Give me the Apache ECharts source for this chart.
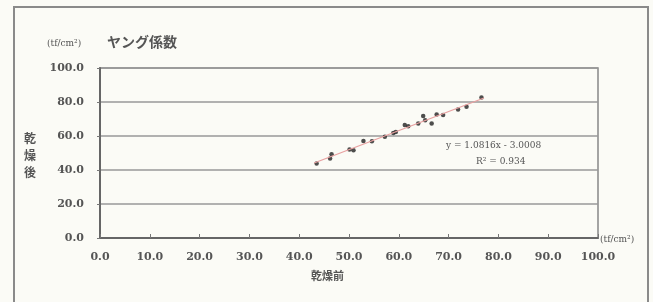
<!DOCTYPE html>
<html lang="ja">
<head>
<meta charset="UTF-8">
<title>ヤング係数</title>
<script src="https://cdn.jsdelivr.net/npm/echarts@6/dist/echarts.min.js"></script>
<style>
 html, body { margin: 0; padding: 0; background: #fbfbf6; }
</style>
</head>
<body>
<div id="main" style="width:653px;height:302px;"></div>
<script type="text/javascript">
// 乾燥前 (x) / 乾燥後 (y)
var before = [43.5, 46.2, 46.5, 50.1, 50.9, 52.9, 54.6, 57.2, 58.9, 59.4, 61.2, 61.9, 63.9, 64.9, 65.3, 66.6, 67.6, 68.9, 71.9, 73.6, 76.6];
var after  = [43.8, 46.7, 49.3, 52.0, 51.6, 57.1, 56.9, 59.5, 61.8, 62.4, 66.4, 65.8, 67.4, 71.7, 69.3, 67.4, 72.7, 72.3, 75.6, 77.2, 82.7];
var xTicks = [0, 10, 20, 30, 40, 50, 60, 70, 80, 90, 100];
var yTicks = [0, 20, 40, 60, 80, 100];
var eqText = 'y = 1.0816x - 3.0008';
var r2Text = 'R² = 0.934';

var points = before.map(function (v, i) { return [v, after[i]]; });

// 近似直線
var n = before.length, sx = 0, sy = 0, sxx = 0, sxy = 0;
for (var i = 0; i < n; i++) {
    sx += before[i]; sy += after[i];
    sxx += before[i] * before[i]; sxy += before[i] * after[i];
}
var slope = (n * sxy - sx * sy) / (n * sxx - sx * sx);
var icpt = (sy - slope * sx) / n;
var x0 = Math.min.apply(null, before) - 0.5, x1 = Math.max.apply(null, before) + 0.5;
var trend = [[x0, slope * x0 + icpt], [x1, slope * x1 + icpt]];

var txt = '#555';
var ff = '"DejaVu Serif", "Noto Sans CJK JP", serif';

var myChart = echarts.init(document.getElementById('main'));
myChart.setOption({
    backgroundColor: '#fbfbf6',
    animation: false,
    textStyle: { fontFamily: ff },
    grid: { left: 100, right: 55, top: 68, bottom: 64, show: true, borderColor: '#888', borderWidth: 1.5 },
    graphic: [
        { type: 'rect', shape: { x: 14, y: 7, width: 634, height: 310 },
          style: { fill: 'none', stroke: '#8a8a8a', lineWidth: 2 } },
        { type: 'text', left: 107, top: 35,
          style: { text: 'ヤング係数', fill: txt, font: 'bold 14px "Noto Sans CJK JP"' } },
        { type: 'text', left: 47, top: 39,
          style: { text: '(tf/cm²)', fill: txt, font: '9px "DejaVu Serif"' } },
        { type: 'text', left: 600, top: 235,
          style: { text: '(tf/cm²)', fill: txt, font: '9px "DejaVu Serif"' } },
        { type: 'text', left: 24, top: 130,
          style: { text: '乾\n燥\n後', fill: txt, lineHeight: 17, font: 'bold 12px "Noto Sans CJK JP"' } },
        { type: 'text', left: 311, top: 270,
          style: { text: '乾燥前', fill: txt, font: 'bold 11px "Noto Sans CJK JP"' } },
        { type: 'text', left: 446, top: 141,
          style: { text: eqText, fill: txt, font: '9px "DejaVu Serif"' } },
        { type: 'text', left: 476, top: 157,
          style: { text: r2Text, fill: txt, font: '9px "DejaVu Serif"' } }
    ],
    xAxis: {
        type: 'value', min: 0, max: 100, interval: 10,
        axisLine: { lineStyle: { color: '#666', width: 2 } },
        axisTick: { show: true, inside: true, length: 4, lineStyle: { color: '#777' } },
        splitLine: { show: false },
        axisLabel: {
            color: txt, fontSize: 11, fontWeight: 'bold', margin: 14,
            formatter: function (v) { return xTicks.indexOf(v) >= 0 ? v.toFixed(1) : ''; }
        }
    },
    yAxis: {
        type: 'value', min: 0, max: 100, interval: 20,
        axisLine: { show: true, lineStyle: { color: '#666', width: 2 } },
        axisTick: { show: true, length: 3, lineStyle: { color: '#777' } },
        splitLine: { show: true, lineStyle: { color: '#999', width: 1.5 } },
        axisLabel: {
            color: txt, fontSize: 11, fontWeight: 'bold', margin: 16,
            formatter: function (v) { return yTicks.indexOf(v) >= 0 ? v.toFixed(1) : ''; }
        }
    },
    series: [
        {
            type: 'line', data: trend, symbol: 'none', silent: true,
            lineStyle: { color: '#e8a0a0', width: 1.2 }
        },
        {
            type: 'scatter', data: points, symbol: 'circle', symbolSize: 4.5,
            itemStyle: { color: '#222' }
        }
    ]
});
</script>
</body>
</html>
